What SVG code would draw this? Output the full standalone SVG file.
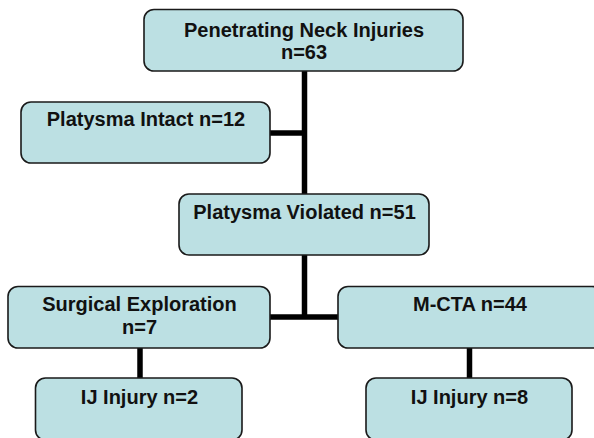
<svg xmlns="http://www.w3.org/2000/svg" width="594" height="438" viewBox="0 0 594 438">
<style>
.box{fill:#BCE0E3;stroke:#1a1a1a;stroke-width:1.6}
.t{font-family:"Liberation Sans",Arial,sans-serif;font-weight:bold;font-size:20px;fill:#111;text-anchor:middle}
.c{stroke:#000;stroke-width:5.5;fill:none}
</style>
<rect width="594" height="438" fill="#fff"/>
<g id="connectors">
<line class="c" x1="304.5" y1="71" x2="304.5" y2="194"/>
<line class="c" x1="270" y1="133" x2="304.5" y2="133"/>
<line class="c" x1="304.5" y1="255" x2="304.5" y2="317"/>
<line class="c" x1="270" y1="317" x2="338" y2="317"/>
<line class="c" x1="140" y1="348" x2="140" y2="378"/>
<line class="c" x1="469.5" y1="348" x2="469.5" y2="378"/>
</g>
<g id="n1"><rect class="box" x="144" y="9.5" width="319" height="61.5" rx="10"/>
<text class="t" x="304" y="36.5">Penetrating Neck Injuries</text>
<text class="t" x="304" y="59">n=63</text></g>
<g id="n2"><rect class="box" x="21" y="102" width="249" height="61" rx="10"/>
<text class="t" x="146" y="126">Platysma Intact n=12</text></g>
<g id="n3"><rect class="box" x="179" y="194" width="250" height="61" rx="10"/>
<text class="t" x="304.5" y="219">Platysma Violated n=51</text></g>
<g id="n4"><rect class="box" x="8" y="286.5" width="262" height="61.5" rx="10"/>
<text class="t" x="139.5" y="311">Surgical Exploration</text>
<text class="t" x="139.5" y="334">n=7</text></g>
<g id="n5"><rect class="box" x="338" y="286.5" width="264" height="61.5" rx="10"/>
<text class="t" x="470" y="311">M-CTA n=44</text></g>
<g id="n6"><rect class="box" x="35.5" y="378" width="206.5" height="62" rx="10"/>
<text class="t" x="139.5" y="404">IJ Injury n=2</text></g>
<g id="n7"><rect class="box" x="366" y="378" width="206" height="62" rx="10"/>
<text class="t" x="469.5" y="404">IJ Injury n=8</text></g>
</svg>
